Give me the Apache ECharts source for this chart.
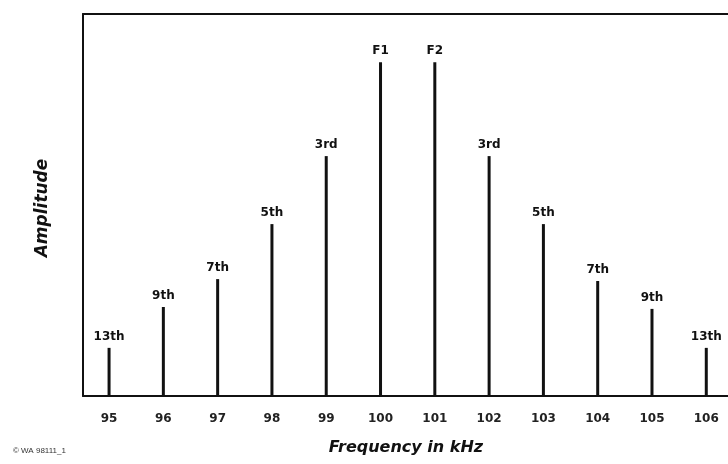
<!DOCTYPE html>
<html>
<head>
<meta charset="utf-8">
<script src="https://cdn.jsdelivr.net/npm/echarts@6/dist/echarts.min.js"></script>
<style>html,body{margin:0;padding:0;background:#fff;}#c{width:728px;height:464px;}</style>
</head>
<body>
<div id="c"></div>
<script>
const frequencies = [95, 96, 97, 98, 99, 100, 101, 102, 103, 104, 105, 106];
const amplitudes = [12.6, 23.3, 30.6, 45.0, 62.8, 87.4, 87.4, 62.8, 45.0, 30.1, 22.8, 12.6];
const harmonicLabels = ["13th", "9th", "7th", "5th", "3rd", "F1", "F2", "3rd", "5th", "7th", "9th", "13th"];
const tickLabels = ["95", "96", "97", "98", "99", "100", "101", "102", "103", "104", "105", "106"];

const chart = echarts.init(document.getElementById('c'), null, {renderer: 'canvas'});
const font = '"DejaVu Sans", "Liberation Sans", Arial, sans-serif';
const lineStyle = {color: '#111', width: 2};
chart.setOption({
  animation: false,
  backgroundColor: '#ffffff',
  grid: {left: 83, top: 14, right: 0, bottom: 68},
  xAxis: [{
    type: 'value',
    min: 94.52, max: 106.40,
    axisLine: {show: true, onZero: false, lineStyle: lineStyle},
    splitLine: {show: false},
    axisTick: {show: false},
    axisLabel: {
      customValues: frequencies,
      formatter: function (v) { const i = frequencies.indexOf(Math.round(v)); return i >= 0 ? tickLabels[i] : ''; },
      margin: 17, color: '#222', fontSize: 12, fontWeight: 'bold', fontFamily: font
    }
  }, {
    type: 'value', position: 'top',
    min: 94.52, max: 106.40,
    axisLine: {show: true, onZero: false, lineStyle: lineStyle},
    splitLine: {show: false}, axisTick: {show: false}, axisLabel: {show: false}
  }],
  yAxis: {
    type: 'value', min: 0, max: 100,
    axisLine: {show: true, onZero: false, lineStyle: lineStyle},
    axisTick: {show: false}, axisLabel: {show: false}, splitLine: {show: false}
  },
  series: [{
    type: 'bar',
    barWidth: 3,
    itemStyle: {color: '#111'},
    data: frequencies.map((f, i) => [f, amplitudes[i]]),
    label: {
      show: true, position: 'top', distance: 5,
      formatter: p => harmonicLabels[p.dataIndex],
      color: '#111', fontSize: 12, fontWeight: 'bold', fontFamily: font
    }
  }],
  graphic: [
    {type: 'text', x: 406, y: 448, style: {text: 'Frequency in kHz', fill: '#111', align: 'center', verticalAlign: 'middle', font: 'italic bold 16px "DejaVu Sans", sans-serif'}},
    {type: 'text', x: 43, y: 208, rotation: Math.PI / 2, style: {text: 'Amplitude', fill: '#111', align: 'center', verticalAlign: 'middle', font: 'italic bold 17px "DejaVu Sans", sans-serif'}},
    {type: 'text', left: 13, top: 447, style: {text: '\u00A9 WA 98111_1', fill: '#333', font: '8px "Liberation Sans", Arial, sans-serif'}}
  ]
});
</script>
</body>
</html>
